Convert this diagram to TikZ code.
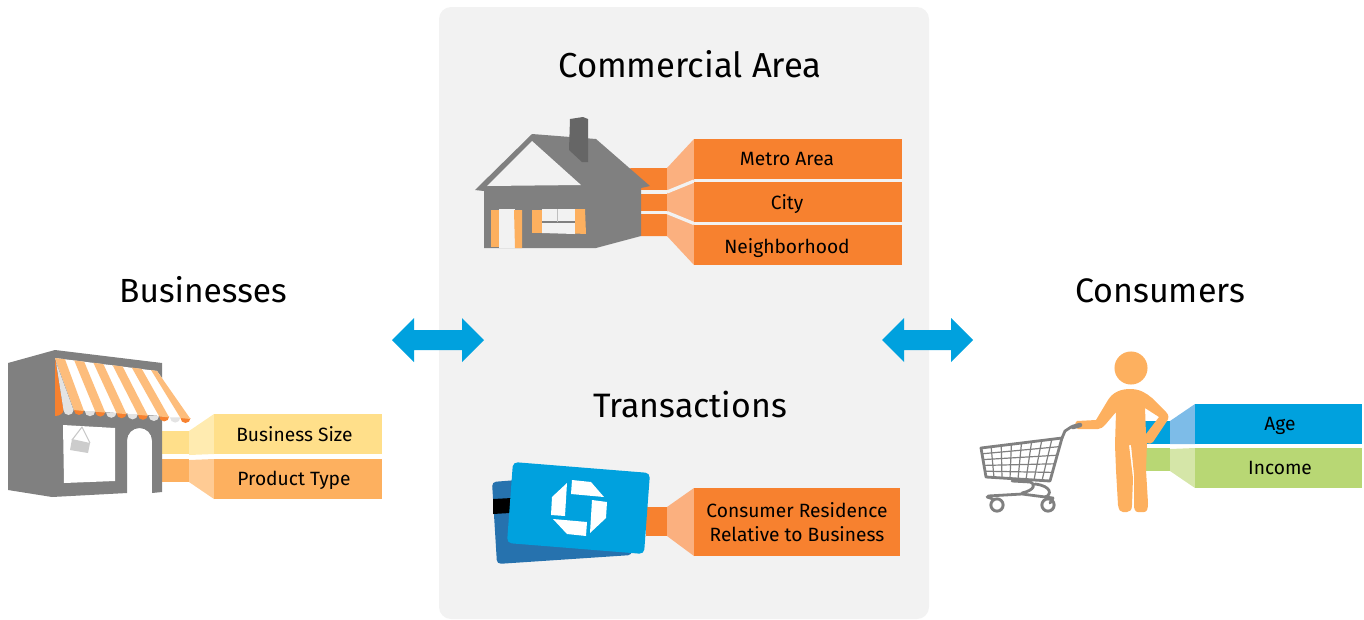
\documentclass[tikz,border=0pt]{standalone}
\usepackage{fontspec}
\setmainfont{Fira Sans}
\definecolor{panel}{HTML}{F2F2F2}
\definecolor{bgray}{HTML}{808080}
\definecolor{chim}{HTML}{666666}
\definecolor{ora}{HTML}{F7812F}
\definecolor{oralt}{HTML}{FBB07F}
\definecolor{amber}{HTML}{FDB05F}
\definecolor{amberlt}{HTML}{FFCB94}
\definecolor{awn}{HTML}{FDBD7C}
\definecolor{yel}{HTML}{FFDF8A}
\definecolor{yellt}{HTML}{FFEBB0}
\definecolor{blu}{HTML}{00A1DE}
\definecolor{blult}{HTML}{7DBCE8}
\definecolor{blud}{HTML}{2672AE}
\definecolor{grn}{HTML}{B8D774}
\definecolor{grnlt}{HTML}{D5E6A8}
\definecolor{scal}{HTML}{E3E3E3}
\tikzset{
  title/.style={font=\fontsize{#1}{30}\selectfont,text=black,inner sep=0pt,anchor=base},
  title/.default=26,
  lab/.style={font=\fontsize{14.4}{18}\selectfont,text=black,inner sep=0pt,anchor=base},
  labtwo/.style={font=\fontsize{14.4}{18}\selectfont,text=black,inner sep=0pt,anchor=center,align=center},
  twoway/.style={fill=blu,draw=none},
  cartline/.style={draw=bgray,line width=0.9pt},
  cartbold/.style={draw=bgray,line width=2.1pt,line cap=round,line join=round}
}
\begin{document}
\begin{tikzpicture}[x=0.75pt,y=-0.75pt]
\useasboundingbox (0,0) rectangle (1364,619);
% panel
\fill[panel,rounded corners=9pt] (439,7) rectangle (929,619);
% titles
\node[title=25.1] (tbus) at (203,302) {Businesses};
\node[title=25.5] (tcon) at (1160,302) {Consumers};
\node[title=26] (tcom) at (690,77) {Commercial Area};
\node[title=25.4] (ttra) at (690,417) {Transactions};
% double arrows
\fill[twoway] (392,340)--(414,318)--(414,330)--(462,330)--(462,318)--(484,340)--(462,362)--(462,350)--(414,350)--(414,362)--cycle;
\fill[twoway] (882,340)--(904,318)--(904,330)--(951,330)--(951,318)--(973,340)--(951,362)--(951,350)--(904,350)--(904,362)--cycle;
% ---------- store
\fill[yel] (162,431) rectangle (189,454);
\fill[yellt] (189,431)--(214,414)--(214,454)--(189,455)--cycle;
\fill[yel] (214,414) rectangle (382,454);
\fill[amber] (162,459) rectangle (189,482);
\fill[amberlt] (189,460)--(214,459)--(214,499)--(189,482)--cycle;
\fill[amber] (214,459) rectangle (382,499);
\node[lab] (bsize) at (294.5,441.5) {Business Size};
\node[lab] (ptype) at (294,485.5) {Product Type};
\fill[bgray] (8,363)--(55,350)--(162,363)--(162,492)--(152,493)--(152,440.5) arc (0:-180:12.5)--(127,493)--(52,497)--(8,490)--cycle;
\fill[white] (63,425)--(115,428)--(115,481)--(64,483)--cycle;
\draw[black!22,line width=0.8pt] (72,440)--(82,427)--(90,443);
\fill[black!20] (72,439)--(90,443)--(88,453)--(70,450)--cycle;
% awning
\fill[white] (55,358)--(157,371)--(190,418)--(74,410)--cycle;
\fill[ora] (55,358)--(63.5,410) arc (0:90:8.5 and 6)--(55,416)--cycle;
\fill[scal] (56,362)--(63.5,410) arc (180:0:5) --(73.5,410)--cycle;
\foreach \i in {0,...,5}{
  \pgfmathsetmacro\xa{55+19.2*\i}
  \pgfmathsetmacro\ya{358+2.4*\i}
  \pgfmathsetmacro\xb{\xa+10}
  \pgfmathsetmacro\yb{\ya+1.3}
  \pgfmathsetmacro\xc{74+21.3*\i}
  \pgfmathsetmacro\yc{410+1.6*\i}
  \pgfmathsetmacro\xd{\xc+10}
  \pgfmathsetmacro\ye{\yc+1}
  \pgfmathsetmacro\xg{\xd+0.8}
  \ifnum\i<5
    \fill[scal] (\xg,\ye) arc (180:0:5.2);
  \fi
  \fill[ora] (\xc,\yc) arc (180:0:5);
  \ifnum\i<5
    \fill[awn] (\xa,\ya)--(\xb,\yb)--(\xd,\ye)--(\xc,\yc)--cycle;
  \else
    \fill[awn] (\xa,\ya)--(157,371)--(\xd,\ye)--(\xc,\yc)--cycle;
  \fi
}
% ---------- house
\fill[ora] (630,168)--(667,168)--(667,236)--(641,236)--(641,188)--cycle;
\fill[panel] (641,190) rectangle (667,194);
\fill[panel] (641,211) rectangle (667,214);
\fill[oralt] (667,168)--(694,139)--(694,265)--(667,236)--cycle;
\draw[panel,line width=2.4pt] (667,192)--(694,181);
\draw[panel,line width=2.4pt] (667,212.5)--(694,223.5);
\fill[ora] (694,139) rectangle (902,179);
\fill[ora] (694,182) rectangle (902,222);
\fill[ora] (694,225) rectangle (902,265);
\node[lab] (metro) at (787,165.5) {Metro Area};
\node[lab] (city) at (787,209.5) {City};
\node[lab] (neigh) at (787,253.5) {Neighborhood};
\fill[bgray] (475,190)--(532,134)--(596,139)--(650,186)--(641,188)--(641,236)--(596,248)--(484,248)--(484,191)--cycle;
\fill[panel] (532,141)--(581,185)--(487,186)--cycle;
\fill[chim] (570,119)--(583,117)--(588,119)--(588,162)--(582,162)--(569,150)--cycle;
\fill[panel] (499,209) rectangle (515,248);
\fill[amber] (491,210)--(499,210)--(499,247)--(491,247)--cycle;
\fill[amber] (514,210)--(522,210)--(522,248)--(515,248)--cycle;
\fill[panel] (542,209)--(575,209)--(575,234)--(542,233)--cycle;
\draw[bgray,line width=0.8pt] (542,222)--(575,222);
\draw[black!25,line width=0.6pt] (557,209)--(557,222);
\fill[amber] (532,210)--(542,210)--(542,233)--(532,233)--cycle;
\fill[amber] (575,209)--(585,209)--(586,234)--(575,233.5)--cycle;
% ---------- cards
\fill[ora] (646,507) rectangle (667,536);
\fill[oralt] (667,507)--(694,488)--(694,556)--(667,536)--cycle;
\fill[ora] (694,488) rectangle (900,556);
\node[labtwo] (resid) at (797,522) {Consumer Residence\\Relative to Business};
\fill[blud,rounded corners=3pt] (492,482)--(630,471)--(632,555)--(497,564)--cycle;
\fill[black] (493,499)--(512,498)--(510,513)--(493,514)--cycle;
\fill[blu,rounded corners=3.5pt] (513,462)--(650,473)--(644,554)--(507,543)--cycle;
\fill[white] (572,480)--(591,482)--(604,497)--(571,494)--cycle;
\fill[white] (592,500)--(607,502)--(606,518)--(590,533)--cycle;
\fill[white] (553,519)--(587,522)--(586,536)--(567,534)--cycle;
\fill[white] (567,483)--(565,516)--(551,515)--(552,497)--cycle;
% ---------- consumer
\fill[blu] (1144,421) rectangle (1170,444);
\fill[blult] (1170,421)--(1195,404)--(1195,444)--(1170,444)--cycle;
\fill[blu] (1195,404) rectangle (1362,444);
\fill[grn] (1146,448) rectangle (1170,471);
\fill[grnlt] (1170,449)--(1195,448)--(1195,488)--(1170,471)--cycle;
\fill[grn] (1195,448) rectangle (1362,488);
\node[lab] (age) at (1280,430.5) {Age};
\node[lab] (income) at (1280,474.5) {Income};
% person
\fill[amber] (1131,368) circle (12.4pt);
\fill[amber,even odd rule]
 (1130,389) .. controls (1140,389) and (1146,393) .. (1152,398)
 -- (1166,412) .. controls (1169,415) and (1169,418) .. (1167,421)
 -- (1153,442) .. controls (1151,444) and (1149,444) .. (1147,443)
 -- (1146,470) -- (1148,503) .. controls (1148,509) and (1147,512) .. (1144,512)
 -- (1138,512) .. controls (1135,512) and (1134,509) .. (1134,505)
 -- (1134,475) -- (1131,445) -- (1129,445)
 -- (1133,478) -- (1132,505) .. controls (1132,510) and (1130,512) .. (1127,512)
 -- (1123,512) .. controls (1120,512) and (1119,510) .. (1118,505)
 -- (1116,470) -- (1115,445) -- (1116,412)
 -- (1105,425) .. controls (1103,428) and (1101,428) .. (1098,429)
 -- (1078,429) .. controls (1075,428) and (1074,423) .. (1077,421)
 -- (1096,420) -- (1108,400) .. controls (1113,392) and (1121,389) .. (1130,389) -- cycle
 (1145,408) -- (1159,417) -- (1146,434) -- cycle;
% cart
\foreach \t in {0.125,0.25,...,0.875}{
  \draw[cartline] ({981+81*\t},{448-10*\t}) -- ({986+64*\t},{477+4*\t});
}
\foreach \t in {0.2,0.4,0.6,0.8}{
  \draw[cartline] ({981+5*\t},{448+29*\t}) -- ({1062-12*\t},{438+43*\t});
}
\draw[cartbold] (981,448)--(1062,438)--(1050,481)--(986,477)--cycle;
\draw[cartbold] (1062,438)--(1065,431)--(1071,427)--(1080,425);
\draw[bgray,line width=3.4pt,line cap=round] (1073,427)--(1080,425);
\draw[cartbold] (1012,481)--(1030,482) .. controls (1036,484) and (1035,490) .. (1022,493)
  (1035,484) .. controls (1052,486) and (1052,495) .. (1045,497);
\draw[cartbold] (988,496)--(1022,494)--(1053,498);
\draw[cartbold] (987,497)--(993,499) (1053,498)--(1050,503);
\draw[bgray,line width=2.2pt] (997,505) circle (4.6pt);
\draw[bgray,line width=2.2pt] (1048,505) circle (4.6pt);
\end{tikzpicture}
\end{document}
